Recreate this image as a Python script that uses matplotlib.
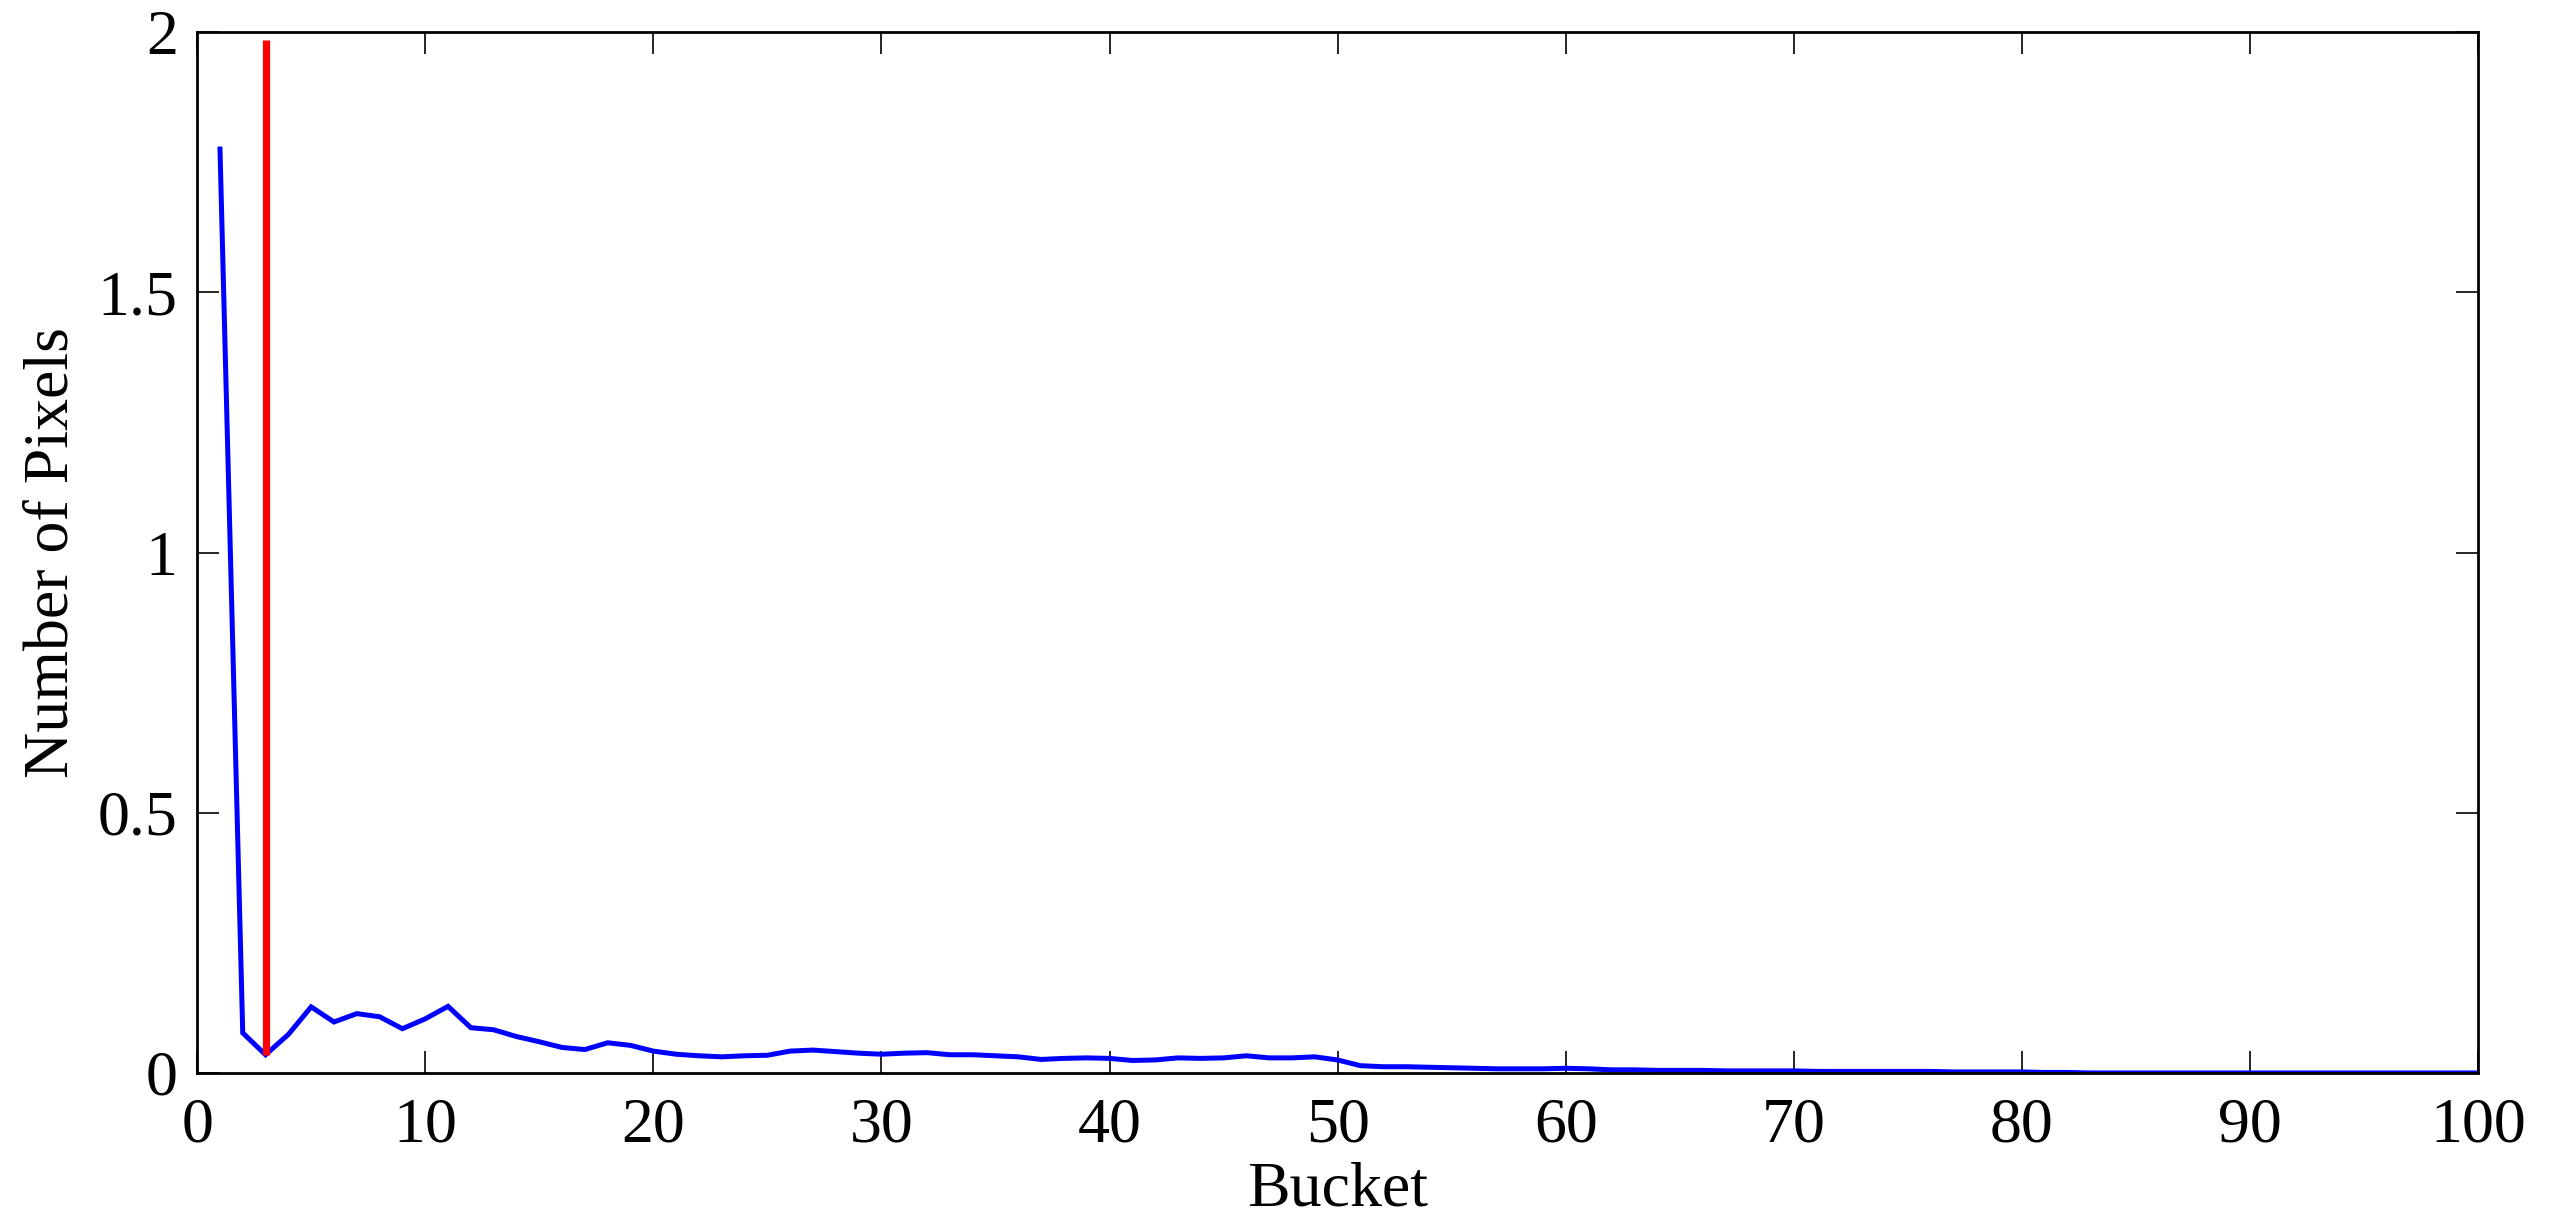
import matplotlib
matplotlib.use("Agg")
import matplotlib.pyplot as plt
import numpy as np

buckets = list(range(1, 101))
pixels = [
    1.780, 0.077, 0.035, 0.074, 0.127, 0.098, 0.114, 0.108, 0.085, 0.104,
    0.128, 0.087, 0.083, 0.070, 0.060, 0.049, 0.045, 0.058, 0.053, 0.042,
    0.036, 0.033, 0.031, 0.033, 0.034, 0.042, 0.044, 0.041, 0.038, 0.036,
    0.038, 0.039, 0.035, 0.035, 0.033, 0.031, 0.026, 0.028, 0.029, 0.028,
    0.024, 0.025, 0.029, 0.028, 0.029, 0.033, 0.029, 0.029, 0.031, 0.025,
    0.014, 0.012, 0.012, 0.011, 0.010, 0.009, 0.008, 0.008, 0.008, 0.009,
    0.008, 0.006, 0.006, 0.005, 0.005, 0.005, 0.004, 0.004, 0.004, 0.004,
    0.003, 0.003, 0.003, 0.003, 0.003, 0.003, 0.002, 0.002, 0.002, 0.002,
    0.001, 0.001, 0.000, 0.000, 0.000, 0.000, 0.000, 0.000, 0.000, 0.000,
    0.000, 0.000, 0.000, 0.000, 0.000, 0.000, 0.000, 0.000, 0.000, 0.000,
]
threshold_x = 3
threshold_top = 1.985

xticks = [0, 10, 20, 30, 40, 50, 60, 70, 80, 90, 100]
yticks = [0, 0.5, 1, 1.5, 2]
ytick_labels = ["0", "0.5", "1", "1.5", "2"]

plt.rcParams['font.family'] = ['Liberation Serif', 'DejaVu Serif']

fig = plt.figure(figsize=(25.5, 12.19), dpi=100)
ax = fig.add_axes([0.0773, 0.1198, 0.8945, 0.8539])

ax.plot(buckets, pixels, color='#0000ff', lw=3.6, solid_capstyle='butt',
        solid_joinstyle='miter', zorder=2)
ax.plot([threshold_x, threshold_x], [pixels[buckets.index(threshold_x)], threshold_top],
        color='#ff0000', lw=5.2, solid_capstyle='butt', zorder=3)

ax.set_xlim(0, 100)
ax.set_ylim(0, 2)
ax.set_xticks(xticks)
ax.set_xticklabels([str(t) for t in xticks])
ax.set_yticks(yticks)
ax.set_yticklabels(ytick_labels)

ax.tick_params(direction='in', length=16, width=1.2, top=True, right=True,
               labelsize=46, pad=14)
ax.tick_params(axis='x', pad=18)
for s in ax.spines.values():
    s.set_linewidth(2.0)

ax.set_xlabel("Bucket", fontsize=46, labelpad=4)
ax.set_ylabel("Number of Pixels", fontsize=46, labelpad=12)

fig.savefig("out.png", dpi=100)
